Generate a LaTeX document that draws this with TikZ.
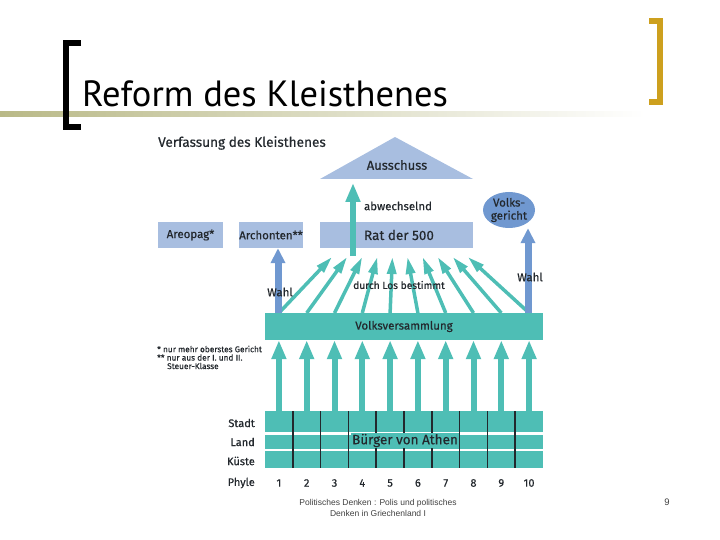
\documentclass[tikz,border=0pt]{standalone}
\usepackage{fontspec}
\setmainfont{Fira Sans}[FakeBold=0.5]
\newfontfamily\titlefont{PT Sans}
\newfontfamily\footfont{Liberation Sans}
\usetikzlibrary{arrows.meta,shapes.geometric,positioning}

\definecolor{kblue}{RGB}{168,190,224}
\definecolor{kdarkblue}{RGB}{112,152,208}
\definecolor{kteal}{RGB}{78,190,181}
\definecolor{kgold}{RGB}{205,160,30}
\definecolor{kolive}{RGB}{185,185,135}
\definecolor{ktext}{RGB}{35,40,45}

\begin{document}
\begin{tikzpicture}[x=1pt,y=-1pt,
  box/.style={fill=kblue,minimum height=26pt,inner sep=0pt,text=ktext,font=\fontsize{11.5}{14}\selectfont},
  lbl/.style={text=ktext,inner sep=0pt,font=\fontsize{11}{13}\selectfont},
  bigarrow/.style={kteal,line width=6pt,-{Triangle[width=14pt 0,length=19pt 0]}},
  fanarrow/.style={kteal,line width=3.5pt,-{Triangle[width=9pt 0,length=17pt 0]}},
  wahlarrow/.style={kdarkblue,line width=7pt,-{Triangle[width=14pt 0,length=15pt 0]}}]
  \useasboundingbox (0,0) rectangle (720,540);

  % title bar
  \shade[left color=kolive,right color=white] (0,112) rectangle (645,117);
  \draw[line width=6pt] (81,43) -- (66,43) -- (66,127) -- (81,127);
  \draw[kgold,line width=6pt] (649,21) -- (660,21) -- (660,102) -- (649,102);
  \node[anchor=base west,inner sep=0pt,font=\titlefont\fontsize{36.5}{42}\selectfont] (title) at (82,107) {Reform des Kleisthenes};

  \node[anchor=west,lbl,font=\fontsize{13.6}{15}\selectfont] (heading) at (158,143) {Verfassung des Kleisthenes};

  % upper level
  \fill[kblue] (320,179) -- (395,137) -- (473,179) -- cycle;
  \node[lbl,font=\fontsize{13}{15}\selectfont] (ausschuss) at (397,165) {Ausschuss};
  \coordinate (ausbase) at (353,183);
  \node[box,minimum width=65pt] (areopag) at (190.5,235) {Areopag*};
  \node[box,minimum width=64pt] (archonten) at (271,235) {Archonten**};
  \node[box,minimum width=153pt,font=\fontsize{13.5}{15}\selectfont] (rat) at (396.5,235) {\hspace{5pt}Rat der 500};
  \node[ellipse,fill=kdarkblue,minimum width=52pt,minimum height=36pt,inner sep=0pt,align=center,text=ktext,font=\fontsize{11.5}{13}\selectfont] (gericht) at (509,210) {Volks-\\gericht};
  \coordinate (ratfoot) at (353,256);
  \draw[bigarrow,line width=6pt] (ratfoot) -- (ausbase);
  \node[lbl,font=\fontsize{11.4}{13}\selectfont] (abw) at (398,206) {abwechselnd};

  % Volksversammlung
  \node[fill=kteal,minimum width=278pt,minimum height=27pt,inner sep=0pt,text=ktext,font=\fontsize{11.5}{13}\selectfont] (vv) at (404,326.5) {Volksversammlung};

  \foreach \i in {1,...,10}{
    \coordinate (f\i) at ({265+27.8*(\i-0.5)},313);
    \coordinate (t\i) at ({332+15.1*(\i-1)},257);
    \draw[fanarrow] (f\i) -- (t\i);
  }
  \node[lbl,font=\fontsize{10.2}{12}\selectfont] (los) at (399,285) {durch Los bestimmt};

  \coordinate (wl) at (278,313);
  \coordinate (wr) at (528,313);
  \draw[wahlarrow] (wl) -- (archonten.south -| wl);
  \draw[wahlarrow] (wr) -- (gericht.south -| wr);
  \node[lbl,font=\fontsize{11.5}{13}\selectfont] (wahl1) at (280,292) {Wahl};
  \node[lbl,font=\fontsize{11.5}{13}\selectfont] (wahl2) at (530,277) {Wahl};

  % footnotes
  \node[anchor=west,lbl,font=\fontsize{8.3}{9}\selectfont] (fn1) at (157,349) {* nur mehr oberstes Gericht};
  \node[anchor=west,lbl,font=\fontsize{8.3}{9}\selectfont] (fn2) at (157,357.5) {** nur aus der I. und II.};
  \node[anchor=west,lbl,font=\fontsize{8.3}{9}\selectfont] (fn3) at (167,366) {Steuer-Klasse};

  % citizens grid
  \fill[kteal] (265,411) rectangle (543,432);
  \fill[kteal] (265,434.5) rectangle (543,448.5);
  \fill[kteal] (265,451) rectangle (543,468);
  \foreach \i in {1,...,9}
    \draw[ktext,line width=1.6pt] ({265+27.8*\i},411) -- ({265+27.8*\i},468);
  \node[fill=kteal,inner sep=1pt,text=ktext,font=\fontsize{13.5}{15}\selectfont] (buerger) at (405,440.5) {Bürger von Athen};

  \foreach \i in {1,...,10}{
    \coordinate (g\i) at ({265+27.8*(\i-0.5)},412);
    \draw[bigarrow] (g\i) -- (g\i |- vv.south);
    \node[lbl] (n\i) at ({265+27.8*(\i-0.5)},483) {\i};
  }
  \node[anchor=east,lbl] (stadt) at (255,423) {Stadt};
  \node[anchor=east,lbl] (land) at (255,442) {Land};
  \node[anchor=east,lbl] (kueste) at (255,461) {Küste};
  \node[anchor=east,lbl] (phyle) at (255,483) {Phyle};

  % footer
  \node[align=center,text=black!75,font=\footfont\fontsize{8.5}{11}\selectfont] (footer) at (378,507.5) {Politisches Denken : Polis und politisches\\Denken in Griechenland I};
  \node[text=black!75,font=\footfont\fontsize{9.5}{11}\selectfont] (page) at (667,502) {9};
\end{tikzpicture}
\end{document}
